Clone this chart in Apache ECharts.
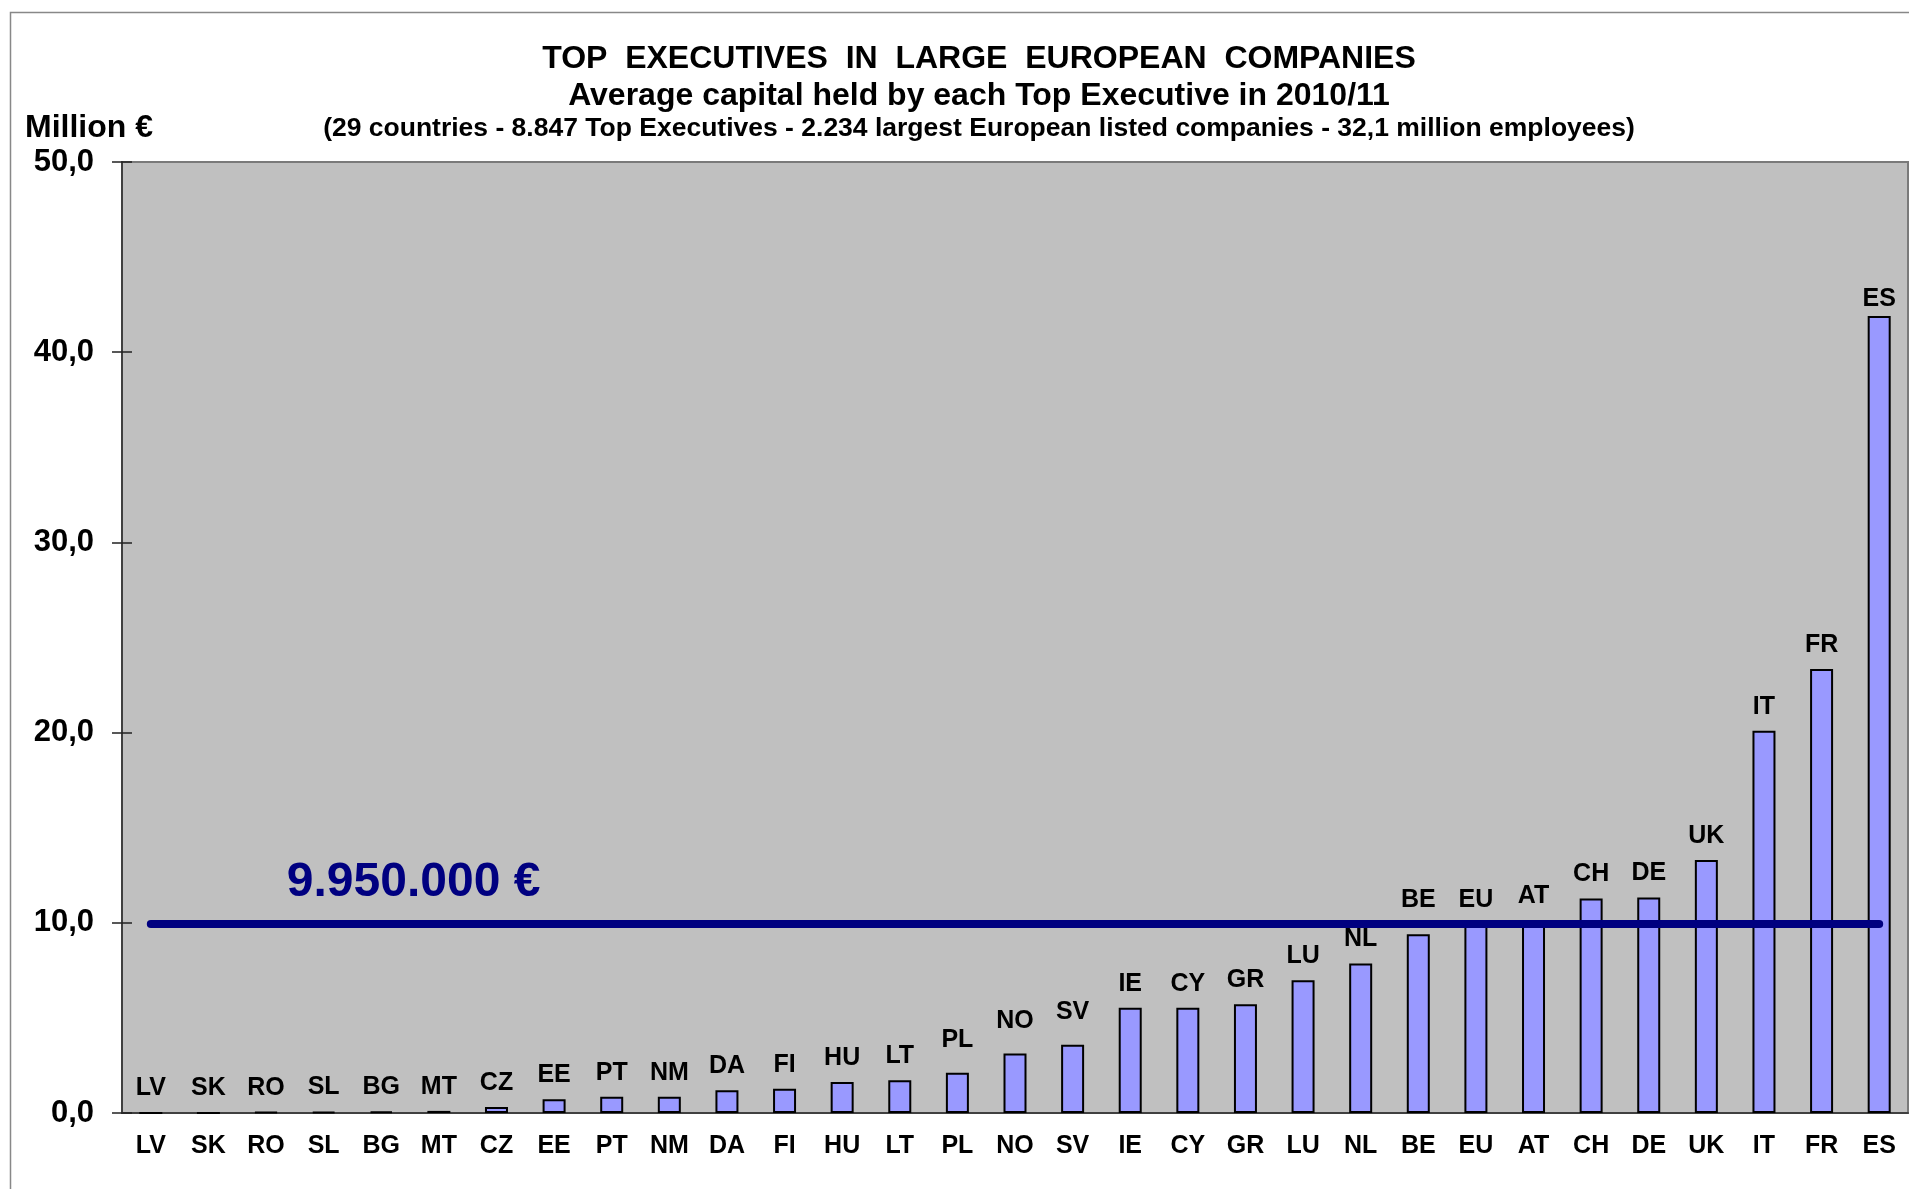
<!DOCTYPE html>
<html>
<head>
<meta charset="utf-8">
<script src="https://cdn.jsdelivr.net/npm/echarts@6/dist/echarts.min.js"></script>
<style>
    html, body {margin: 0; padding: 0; background: #fff;}
    #capital {width: 1909px; height: 1189px;}
</style>
</head>
<body>
<div id="capital"></div>
<script>
    let countries = ["LV", "SK", "RO", "SL", "BG", "MT", "CZ", "EE", "PT", "NM", "DA", "FI", "HU", "LT", "PL",
        "NO", "SV", "IE", "CY", "GR", "LU", "NL", "BE", "EU", "AT", "CH", "DE", "UK", "IT", "FR", "ES"];
    // million € per top executive
    let capital = [0, 0, 0.04, 0.06, 0.08, 0.11, 0.32, 0.72, 0.85, 0.86, 1.19, 1.28, 1.63, 1.72, 2.11,
        3.13, 3.59, 5.54, 5.54, 5.72, 6.98, 7.86, 9.40, 9.95, 10.14, 11.28, 11.33, 13.30, 20.10, 23.35, 41.9];
    let average = 9.95;
    let averageText = "9.950.000 €";
    let yTicks = [0, 10, 20, 30, 40, 50];

    // some labels sit a bit higher / lower in the original
    let labelGap = {PL: 20, NO: 20, SV: 20, BE: 22, ES: 4};

    let font = "'Liberation Sans', Arial, sans-serif";

    let barData = capital.map(function (v, i) {
        let gap = labelGap[countries[i]];
        return gap ? {value: v, label: {distance: gap}} : v;
    });

    let capOption = {
        backgroundColor: "#fff",
        animation: false,
        title: [
            {text: "TOP  EXECUTIVES  IN  LARGE  EUROPEAN  COMPANIES", left: 979, top: 43, textAlign: "center", padding: 0,
                textStyle: {fontFamily: font, fontSize: 32, fontWeight: "bold", color: "#000"}},
            {text: "Average capital held by each Top Executive in 2010/11", left: 979, top: 80, textAlign: "center", padding: 0,
                textStyle: {fontFamily: font, fontSize: 32, fontWeight: "bold", color: "#000"}},
            {text: "(29 countries - 8.847 Top Executives - 2.234 largest European listed companies - 32,1 million employees)",
                left: 979, top: 115, textAlign: "center", padding: 0,
                textStyle: {fontFamily: font, fontSize: 26.5, fontWeight: "bold", color: "#000"}},
            {text: "Million €", left: 25, top: 112, padding: 0,
                textStyle: {fontFamily: font, fontSize: 32, fontWeight: "bold", color: "#000"}}
        ],
        graphic: [{
            type: "rect", left: 8, top: 10, silent: true,
            shape: {width: 2000, height: 2000},
            style: {fill: "none", stroke: "#888", lineWidth: 1.5}
        }],
        grid: {left: 122, right: 1, top: 162, bottom: 76, show: true,
            backgroundColor: "#C0C0C0", borderColor: "#7a7a7a", borderWidth: 2},
        xAxis: [{
            type: "category", data: countries,
            axisLine: {lineStyle: {color: "#404040", width: 2}},
            axisTick: {length: 8, lineStyle: {color: "#222", width: 1.5}},
            axisLabel: {margin: 21, fontFamily: font, fontSize: 25, fontWeight: "bold", color: "#000", interval: 0}
        }, {
            type: "category", data: countries, position: "bottom",
            axisLine: {show: false},
            axisTick: {inside: true, length: 8, lineStyle: {color: "#222", width: 1.5}},
            axisLabel: {show: false}
        }],
        yAxis: [{
            type: "value", min: yTicks[0], max: yTicks[yTicks.length - 1], interval: 10,
            axisLine: {show: true, lineStyle: {color: "#404040", width: 2}},
            axisTick: {show: true, length: 10, lineStyle: {color: "#222", width: 1.5}},
            splitLine: {show: false},
            axisLabel: {margin: 28, fontFamily: font, fontSize: 31, fontWeight: "bold", color: "#000",
                formatter: function (v) { return v.toFixed(1).replace(".", ","); }}
        }, {
            type: "value", min: yTicks[0], max: yTicks[yTicks.length - 1], interval: 10, position: "left",
            axisLine: {show: false},
            axisTick: {show: true, inside: true, length: 10, lineStyle: {color: "#222", width: 1.5}},
            splitLine: {show: false},
            axisLabel: {show: false}
        }],
        series: [{
            name: "capital",
            type: "bar",
            barWidth: 23,
            data: barData,
            itemStyle: {color: "#9999FF", borderColor: "#000", borderWidth: 2},
            label: {show: true, position: "top", distance: 11.5, formatter: "{b}",
                fontFamily: font, fontSize: 25, fontWeight: "bold", color: "#000"},
            markLine: {
                silent: true,
                symbol: "none",
                lineStyle: {color: "#000080", width: 8, type: "solid", cap: "round"},
                label: {show: true, position: "insideStartTop", distance: [136, 17], formatter: averageText,
                    fontFamily: font, fontSize: 48, fontWeight: "bold", color: "#000080"},
                data: [[{coord: [countries[0], average]}, {coord: [countries[countries.length - 1], average]}]]
            }
        }]
    };

    let capChart = echarts.init(document.getElementById("capital"));
    capChart.setOption(capOption);
</script>
</body>
</html>
